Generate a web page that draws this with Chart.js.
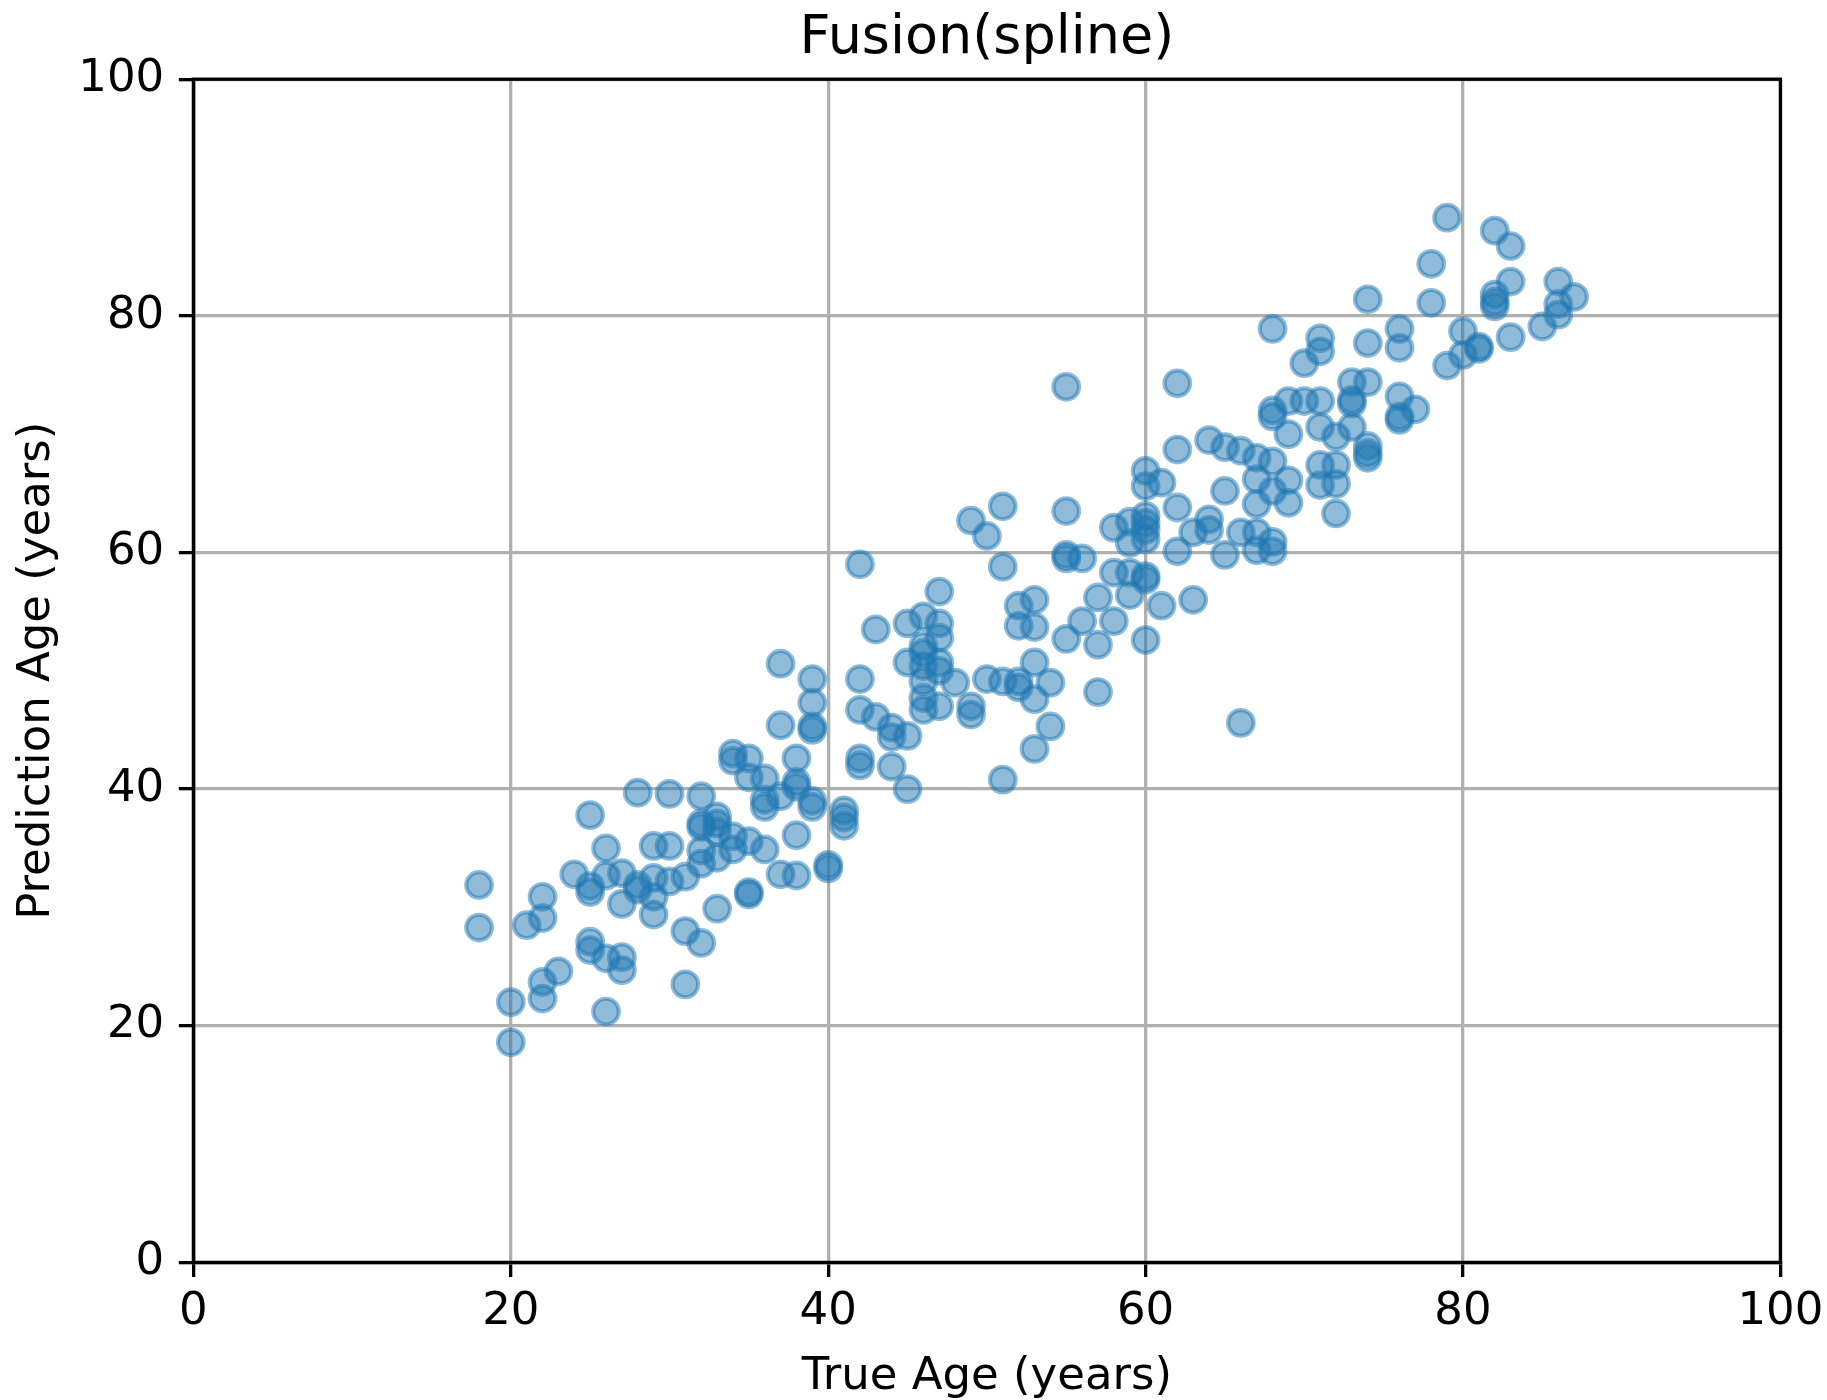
<!DOCTYPE html>
<html>
<head>
<meta charset="utf-8">
<title>Fusion(spline)</title>
<script src="https://cdn.jsdelivr.net/npm/chart.js@4.4.1/dist/chart.umd.min.js"></script>
<style>
  html, body { margin: 0; padding: 0; background: #fff; }
  canvas { display: block; }
</style>
</head>
<body>
<canvas id="scatterChart" width="1827" height="1400"></canvas>
<script>
var trueAges = [18, 20, 21, 22, 23, 24, 25, 26, 27, 28, 29, 30, 31, 32, 33, 34, 35, 36, 37, 38, 39, 40,
    41, 42, 43, 44, 45, 46, 47, 48, 49, 50, 51, 52, 53, 54, 55, 56, 57, 58, 59, 60, 61, 62, 63, 64,
    65, 66, 67, 68, 69, 70, 71, 72, 73, 74, 76, 77, 78, 79, 80, 81, 82, 83, 85, 86, 87]

var predictedAges = [
    [31.9, 28.3],                               // 18
    [22.0, 18.6],                               // 20
    [28.5],                                     // 21
    [30.9, 29.1, 23.7, 22.3],                   // 22
    [24.6],                                     // 23
    [32.8],                                     // 24
    [37.8, 31.8, 31.3, 27.1, 26.4],             // 25
    [35.0, 32.7, 25.7, 21.2],                   // 26
    [32.9, 30.3, 25.8, 24.7],                   // 27
    [39.7, 31.9, 31.5],                         // 28
    [35.2, 32.5, 30.9, 29.4],                   // 29
    [39.6, 35.2, 32.2],                         // 30
    [32.6, 28.0, 23.5],                         // 31
    [39.4, 37.1, 36.8, 34.8, 33.7, 27.0],       // 32
    [37.7, 37.1, 36.4, 34.2, 29.9],             // 33
    [43.0, 42.4, 36.0, 34.9],                   // 34
    [42.6, 41.0, 35.6, 31.3, 31.1],             // 35
    [40.9, 39.1, 38.5, 34.9],                   // 36
    [50.6, 45.4, 39.4, 32.8],                   // 37
    [42.6, 40.6, 40.2, 36.1, 32.7],             // 38
    [49.3, 47.3, 45.3, 45.0, 39.0, 38.5],       // 39
    [33.6, 33.3],                               // 40
    [38.2, 37.6, 36.9],                         // 41
    [59.0, 49.3, 46.7, 42.6, 42.0],             // 42
    [53.5, 46.1],                               // 43
    [45.2, 44.4, 41.9],                         // 44
    [54.0, 50.7, 44.5, 40.0],                   // 45
    [54.6, 52.1, 51.5, 50.4, 49.1, 47.7, 46.7], // 46
    [56.7, 54.0, 52.8, 50.7, 50.0, 47.0],       // 47
    [49.0],                                     // 48
    [62.7, 47.0, 46.3],                         // 49
    [61.4, 49.3],                               // 50
    [63.9, 58.8, 49.1, 40.8],                   // 51
    [55.5, 53.8, 49.1, 48.6],                   // 52
    [56.0, 53.7, 50.7, 47.6, 43.4],             // 53
    [49.0, 45.3],                               // 54
    [74.0, 63.5, 59.8, 59.5, 52.7],             // 55
    [59.5, 54.2],                               // 56
    [56.2, 52.2, 48.2],                         // 57
    [62.1, 58.3, 54.2],                         // 58
    [62.6, 60.8, 58.3, 56.4],                   // 59
    [66.9, 65.6, 63.1, 62.5, 61.9, 61.1, 58.0, 57.7, 52.6], // 60
    [65.9, 55.5],                               // 61
    [74.3, 68.7, 63.8, 60.1],                   // 62
    [61.7, 56.0],                               // 63
    [69.5, 62.8, 61.9],                         // 64
    [68.9, 65.2, 59.8],                         // 65
    [68.6, 61.7, 45.6],                         // 66
    [68.0, 66.2, 64.1, 61.7, 60.2],             // 67
    [78.9, 72.0, 71.5, 67.7, 65.2, 60.9, 60.1], // 68
    [72.8, 70.0, 66.1, 64.2],                   // 69
    [76.0, 72.8],                               // 70
    [78.1, 77.0, 72.8, 70.6, 67.4, 65.7],       // 71
    [69.8, 67.4, 65.8, 63.3],                   // 72
    [74.4, 72.9, 72.6, 70.6],                   // 73
    [81.4, 77.7, 74.4, 69.0, 68.4, 68.0],       // 74
    [78.9, 77.3, 73.2, 71.5, 71.2],             // 76
    [72.1],                                     // 77
    [84.4, 81.1],                               // 78
    [88.3, 75.8],                               // 79
    [78.7, 76.7],                               // 80
    [77.4, 77.2],                               // 81
    [87.2, 81.8, 81.2, 80.8],                   // 82
    [85.9, 82.9, 78.2],                         // 83
    [79.1],                                     // 85
    [82.9, 81.0, 80.1],                         // 86
    [81.6]                                      // 87
]

var axisTicks = [0, 20, 40, 60, 80, 100]

var fontFamily = 'DejaVu Sans'
var gridColor = '#b0b0b0'
var lineW = 3.3

// one {x, y} per prediction
var points = []
trueAges.forEach(function (age, i) {
    predictedAges[i].forEach(function (p) {
        points.push({ x: age, y: p })
    })
})

// matplotlib style closed frame around the plot area
var frameBox = {
    id: 'frameBox',
    afterDraw: function (chart) {
        var a = chart.chartArea
        var ctx = chart.ctx
        ctx.save()
        ctx.strokeStyle = '#000'
        ctx.lineWidth = lineW
        ctx.strokeRect(a.left, a.top, a.right - a.left, a.bottom - a.top)
        ctx.restore()
    }
}

function axisOptions(label, titlePad, tickPad, size) {
    return {
        type: 'linear',
        min: axisTicks[0],
        max: axisTicks[axisTicks.length - 1],
        z: 1,
        afterBuildTicks: function (scale) {
            scale.ticks = axisTicks.map(function (v) { return { value: v } })
        },
        ticks: {
            color: '#000',
            padding: tickPad,
            maxRotation: 0,
            font: { family: fontFamily, size: 45 }
        },
        grid: {
            color: gridColor,
            lineWidth: lineW,
            tickColor: '#000',
            tickWidth: lineW,
            tickLength: 14.6
        },
        border: { color: '#000', width: lineW },
        title: {
            display: true,
            text: label,
            color: '#000',
            padding: titlePad,
            font: { family: fontFamily, size: 45, lineHeight: 1 }
        },
        afterFit: function (scale) {
            // fixed axis band, no extra room for the end labels
            if (scale.isHorizontal()) scale.height = size
            else scale.width = size
            scale.paddingLeft = 0
            scale.paddingRight = 0
            scale.paddingTop = 0
            scale.paddingBottom = 0
        }
    }
}

var scatterCanvas = document.getElementById('scatterChart').getContext('2d')

var scatterChart = new Chart(scatterCanvas, {
    type: 'scatter',
    data: {
        datasets: [
            {
                label: 'Fusion(spline)',
                data: points,
                backgroundColor: 'rgba(31,119,180,0.5)',
                borderColor: 'rgba(31,119,180,0.5)',
                borderWidth: 4.2,
                pointRadius: 12.8,
                pointHoverRadius: 12.8
            }
        ]
    },
    options: {
        responsive: false,
        animation: false,
        devicePixelRatio: 1,
        events: [],
        layout: { padding: { left: 0, right: 46.6, top: 0, bottom: 0 } },
        plugins: {
            legend: { display: false },
            tooltip: { enabled: false },
            title: {
                display: true,
                text: 'Fusion(spline)',
                color: '#000',
                fullSize: false,
                padding: { top: 6.6, bottom: 7.8 },
                font: { family: fontFamily, size: 54, weight: 'normal', lineHeight: 1.2 }
            }
        },
        scales: {
            x: axisOptions('True Age (years)', { top: 0, bottom: 0 }, 8, 137.6),
            y: axisOptions('Prediction Age (years)', { top: 15, bottom: 0 }, 14.6, 193.4)
        }
    },
    plugins: [frameBox]
})
</script>
</body>
</html>
